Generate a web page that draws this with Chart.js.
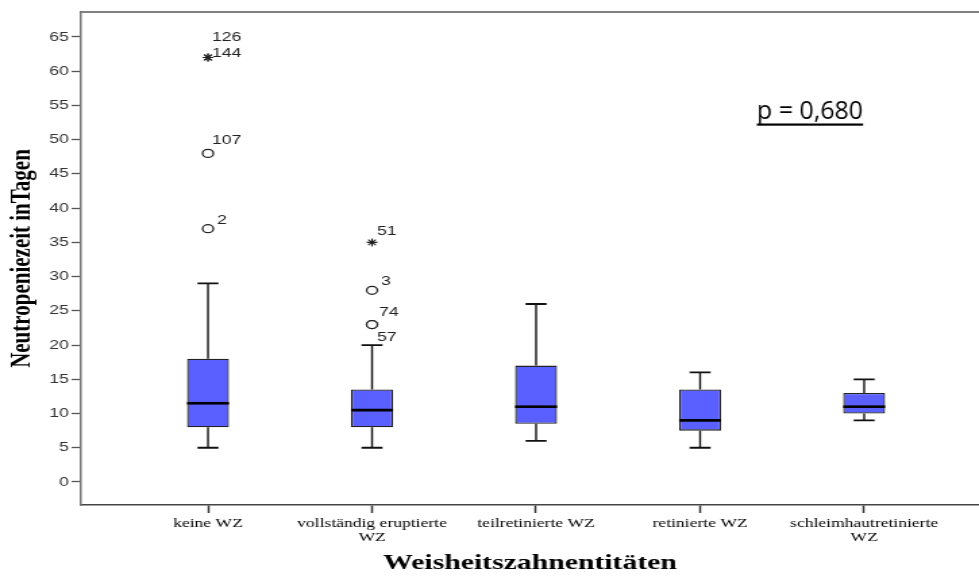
<!DOCTYPE html>
<html>
<head>
<meta charset="utf-8">
<script src="https://cdn.jsdelivr.net/npm/chart.js@4.4.1/dist/chart.umd.min.js"></script>
<style>
  html, body { margin: 0; padding: 0; background: #fff; overflow: hidden; }
  /* the original SPSS export is stretched sideways, so the whole canvas is too */
  #wrap { width: 725px; height: 576px; transform: scaleX(1.3503); transform-origin: 0 0; }
</style>
</head>
<body>
<div id="wrap"><canvas id="boxChart" width="725" height="576"></canvas></div>
<script>
// categories (x axis)
const categories = ['keine WZ', ['vollständig eruptierte', 'WZ'], 'teilretinierte WZ', 'retinierte WZ', ['schleimhautretinierte', 'WZ']];

// box plot values per category
const whiskerLow  = [5, 5, 6, 5, 9];
const quartile1   = [8, 8, 8.5, 7.5, 10];
const medians     = [11.5, 10.5, 11, 9, 11];
const quartile3   = [18, 13.5, 17, 13.5, 13];
const whiskerHigh = [29, 20, 26, 16, 15];

// outliers: category index, value, marker, case number
const outlierGroup  = [0, 0, 0, 0, 1, 1, 1, 1];
const outlierValues = [62, 62, 48, 37, 35, 28, 23, 23];
const outlierShapes = ['star', 'star', 'circle', 'circle', 'star', 'circle', 'circle', 'circle'];
const outlierIds    = ['126', '144', '107', '2', '51', '3', '74', '57'];

// y axis ticks
const yTicks = [0, 5, 10, 15, 20, 25, 30, 35, 40, 45, 50, 55, 60, 65];

const pText = 'p = 0,680';
const stretch = 1.3503;

Chart.defaults.font.family = "'Liberation Sans', Arial, sans-serif";

const boxExtras = {
  id: 'boxExtras',
  afterDatasetsDraw(chart, args, opts) {
    const { ctx, chartArea, scales: { x, y } } = chart;
    ctx.save();

    // top frame line
    ctx.strokeStyle = '#808080';
    ctx.lineWidth = 2;
    ctx.beginPath();
    ctx.moveTo(chartArea.left, chartArea.top);
    ctx.lineTo(chart.width, chartArea.top);
    ctx.stroke();

    // whiskers and medians
    const bars = chart.getDatasetMeta(0).data;
    bars.forEach((bar, i) => {
      const cx = bar.x;
      const hw = bar.width / 2;
      const yLo = y.getPixelForValue(whiskerLow[i]);
      const yQ1 = y.getPixelForValue(quartile1[i]);
      const yQ3 = y.getPixelForValue(quartile3[i]);
      const yHi = y.getPixelForValue(whiskerHigh[i]);
      ctx.strokeStyle = '#111';
      ctx.lineWidth = 1.4;
      ctx.beginPath();
      ctx.moveTo(cx, yQ3); ctx.lineTo(cx, yHi);
      ctx.moveTo(cx, yQ1); ctx.lineTo(cx, yLo);
      ctx.stroke();
      ctx.lineWidth = 1.8;
      ctx.beginPath();
      ctx.moveTo(cx - hw / 2, yHi); ctx.lineTo(cx + hw / 2, yHi);
      ctx.moveTo(cx - hw / 2, yLo); ctx.lineTo(cx + hw / 2, yLo);
      ctx.stroke();
      const yMed = y.getPixelForValue(medians[i]);
      ctx.strokeStyle = '#000';
      ctx.lineWidth = 2.6;
      ctx.beginPath();
      ctx.moveTo(cx - hw, yMed); ctx.lineTo(cx + hw, yMed);
      ctx.stroke();
    });

    // case numbers next to the outliers
    const pts = chart.getDatasetMeta(1).data;
    ctx.fillStyle = '#222';
    ctx.font = "13px 'Liberation Sans', Arial, sans-serif";
    ctx.textAlign = 'left';
    ctx.textBaseline = 'middle';
    pts.forEach((pt, k) => {
      const off = opts.labelOffsets[k];
      ctx.fillText(outlierIds[k], pt.x + off[0], pt.y + off[1]);
    });

    // p value, not stretched
    const px = x.getPixelForValue(opts.pAt[0]);
    const py = y.getPixelForValue(opts.pAt[1]);
    ctx.translate(px, py);
    ctx.scale(1 / stretch, 1);
    ctx.fillStyle = '#000';
    ctx.font = "25px 'Open Sans', sans-serif";
    ctx.textBaseline = 'alphabetic';
    ctx.fillText(pText, 0, 0);
    const w = ctx.measureText(pText).width;
    ctx.fillRect(0, 4, w, 2.2);
    ctx.restore();
  }
};

new Chart(document.getElementById('boxChart'), {
  type: 'bar',
  data: {
    datasets: [
      {
        type: 'bar',
        data: categories.map((c, i) => ({ x: i, y: [quartile1[i], quartile3[i]] })),
        backgroundColor: '#5a5fff',
        borderColor: '#222',
        borderWidth: 1.3,
        borderSkipped: false,
        barPercentage: 0.256,
        categoryPercentage: 1
      },
      {
        type: 'scatter',
        data: outlierValues.map((v, k) => ({ x: outlierGroup[k], y: v })),
        pointStyle: outlierShapes,
        pointRadius: 4,
        backgroundColor: '#fff',
        borderColor: '#222',
        borderWidth: outlierShapes.map(s => s === 'star' ? 1.1 : 1.3)
      }
    ]
  },
  options: {
    responsive: false,
    animation: false,
    layout: { autoPadding: false, padding: { top: 12, left: 0, right: 0, bottom: 0 } },
    plugins: {
      legend: { display: false },
      tooltip: { enabled: false },
      boxExtras: {
        labelOffsets: [[3, -20.6], [3, -4], [3, -13.3], [6.7, -8.3], [3.7, -11], [6.7, -9], [5.2, -12], [3.7, 12.7]],
        pAt: [3.346, 52.95]
      }
    },
    scales: {
      x: {
        type: 'linear',
        offset: false,
        min: -0.774,
        max: 4.70,
        afterBuildTicks: s => { s.ticks = categories.map((c, i) => ({ value: i })); },
        afterFit: s => { s.height = 71; s.paddingLeft = 0; s.paddingRight = 0; },
        ticks: {
          callback: v => categories[v],
          autoSkip: false,
          maxRotation: 0,
          padding: 3,
          color: '#000',
          font: { family: "'Liberation Serif', 'Times New Roman', serif", size: 13, lineHeight: 1.1 }
        },
        grid: {
          offset: false,
          drawOnChartArea: false,
          tickLength: 8,
          tickWidth: 1.5,
          color: c => (c.tick && categories[c.tick.value] !== undefined) ? '#333' : 'rgba(0,0,0,0)'
        },
        border: { color: '#444', width: 1.5 },
        title: {
          display: true,
          text: 'Weisheitszahnentitäten',
          color: '#000',
          padding: { top: 0, bottom: -1 },
          font: { family: "'Liberation Serif', 'Times New Roman', serif", size: 22, weight: 'bold' }
        }
      },
      y: {
        min: -3.36,
        max: 68.65,
        afterBuildTicks: s => { s.ticks = yTicks.map(v => ({ value: v })); },
        afterFit: s => { s.width = 60; },
        ticks: { color: '#333', padding: 2, font: { size: 13 } },
        grid: { drawOnChartArea: false, tickLength: 7, color: '#555', tickWidth: 1.3 },
        border: { color: '#777', width: 1.5 },
        title: {
          display: true,
          text: 'Neutropeniezeit inTagen',
          color: '#000',
          font: { family: "'Liberation Serif', 'Times New Roman', serif", size: 21, weight: 'bold' }
        }
      }
    }
  },
  plugins: [boxExtras]
});
</script>
</body>
</html>
